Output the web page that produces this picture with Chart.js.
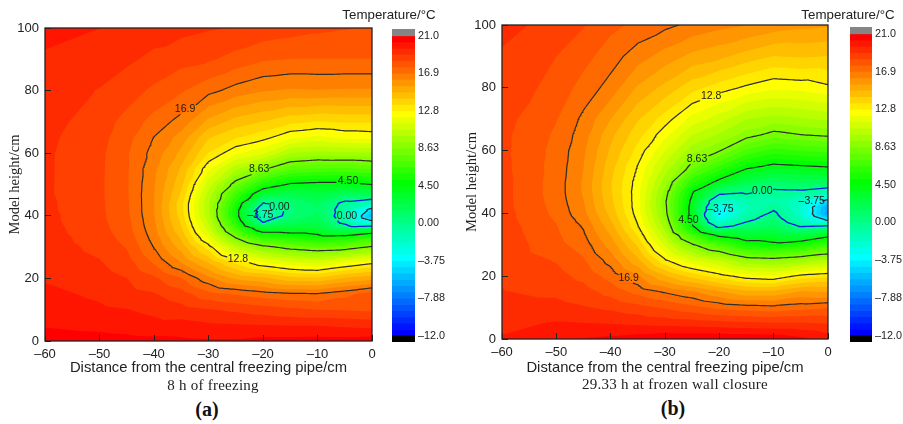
<!DOCTYPE html>
<html>
<head>
<meta charset="utf-8">
<style>
  html, body { margin: 0; padding: 0; background: #fff; width: 903px; height: 424px; overflow: hidden; }
  canvas { position: absolute; }
  .txt { position: absolute; white-space: nowrap; transform: translate(-50%, -50%); color: #222; }
  .legendTitle { font: 13.3px "Liberation Sans", sans-serif; }
  .caption { font: 15px "Liberation Serif", serif; letter-spacing: 0.25px; }
  .letter { font: bold 20px "Liberation Serif", serif; color: #111; }
</style>
</head>
<body>
<canvas id="plotA" width="380" height="385" style="left:0;top:0"></canvas>
<canvas id="barA" width="70" height="360" style="left:385px;top:0"></canvas>
<canvas id="plotB" width="380" height="385" style="left:457px;top:0"></canvas>
<canvas id="barB" width="60" height="360" style="left:843px;top:0"></canvas>
<div class="txt legendTitle" style="left:389px;top:13.5px">Temperature/°C</div>
<div class="txt legendTitle" style="left:848px;top:13.5px">Temperature/°C</div>
<div class="txt caption" style="left:213px;top:385px">8 h of freezing</div>
<div class="txt caption" style="left:675px;top:384px">29.33 h at frozen wall closure</div>
<div class="txt letter" style="left:207px;top:409px">(a)</div>
<div class="txt letter" style="left:673px;top:408px">(b)</div>

<script src="https://cdn.jsdelivr.net/npm/chart.js@4/dist/chart.umd.min.js"></script>
<script>
// grid nodes the temperatures were read at
const xNodes = [-60, -50, -45, -40, -35, -30, -25, -20, -15, -10, -5, 0];
const yNodes = [0, 5, 10, 15, 20, 25, 30, 33, 36, 38, 40, 42, 44, 47, 50, 55, 60, 65, 70, 80, 90, 100];

// panel (a), one array per x node, bottom to top
const a_m60 = [20.7, 20.25, 20, 19.8, 19.55, 19.4, 19.3, 19.25, 19.2, 19.15, 19.15, 19.1, 19.1, 19.05, 19.05, 19.05, 19.05, 19.1, 19.2, 19.35, 19.5, 19.9];
const a_m50 = [20.6, 20.1, 19.75, 19.5, 19.25, 19, 18.75, 18.62, 18.5, 18.45, 18.42, 18.4, 18.4, 18.38, 18.38, 18.4, 18.42, 18.5, 18.6, 18.9, 19.3, 19.63];
const a_m45 = [20.55, 20, 19.65, 19.2, 18.95, 18.55, 18.2, 18, 17.85, 17.8, 17.72, 17.7, 17.68, 17.65, 17.65, 17.65, 17.65, 17.8, 18, 18.6, 19.05, 19.35];
const a_m40 = [20.5, 19.85, 19.45, 19, 18.4, 17.5, 16.85, 16.6, 16.4, 16.3, 16.25, 16.2, 16.2, 16.2, 16.25, 16.35, 16.6, 16.85, 17.3, 18.1, 18.8, 19.2];
const a_m35 = [20.45, 19.9, 19.2, 18.55, 17.6, 16.2, 15.2, 14.7, 14.2, 14, 13.8, 13.7, 13.7, 14, 14.3, 14.7, 15.3, 15.9, 16.6, 17.65, 18.5, 19.15];
const a_m30 = [20.4, 19.75, 19, 17.8, 16.4, 14.8, 13.1, 11.9, 11, 10.6, 10.2, 10.1, 10.1, 10.4, 11, 12.2, 13.4, 14.2, 15.3, 17.1, 18.35, 19];
const a_m25 = [20.4, 19.7, 18.8, 17.5, 15.4, 13.3, 10.5, 8.6, 6.8, 5.9, 5.2, 5.2, 5.7, 6.7, 8.1, 10.2, 12.2, 13.5, 14.5, 16.6, 18, 18.9];
const a_m20 = [20.55, 19.65, 18.6, 17.2, 15, 12.2, 9, 6.3, 3.2, 0.3, -1.3, -1.2, 0.3, 3.2, 5.6, 8.8, 11.5, 13, 14.1, 16.25, 17.65, 18.7];
const a_m15 = [20.55, 19.6, 18.4, 17, 14.4, 11.6, 8.2, 5.8, 3.2, 1.9, 1.1, 0.9, 1.2, 2.4, 4.3, 7.5, 10, 12.2, 13.6, 16.1, 17.55, 18.55];
const a_m10 = [20.6, 19.6, 18.25, 16.95, 14.3, 11.3, 7.8, 5.2, 3.2, 2.4, 1.9, 1.7, 1.9, 2.9, 4.1, 7.2, 9.7, 11.9, 13.4, 16.15, 17.55, 18.4];
const a_m5 = [20.6, 19.5, 18.2, 17.35, 14.9, 12, 8, 5.3, 1.6, -0.2, -0.6, -0.4, -0.1, 1.9, 4.1, 7.1, 9.8, 12.2, 13.5, 16.1, 17.55, 18.3];
const a_0 = [20.7, 19.4, 18.1, 17.9, 15.3, 12.6, 8.8, 6.4, 2.4, -3.2, -5.8, -4.5, -1, 2.2, 4.5, 7.4, 9.9, 12.3, 13.5, 16.1, 17.55, 18.2];
const tempsA = [a_m60, a_m50, a_m45, a_m40, a_m35, a_m30, a_m25, a_m20, a_m15, a_m10, a_m5, a_0];

// panel (b)
const b_m60 = [19.7, 19.4, 19.2, 18.97, 18.85, 18.75, 18.7, 18.65, 18.6, 18.55, 18.55, 18.5, 18.5, 18.5, 18.5, 18.45, 18.42, 18.42, 18.5, 18.72, 18.85, 19.15];
const b_m50 = [20.2, 19.7, 19.15, 18.8, 18.5, 18.2, 17.8, 17.7, 17.6, 17.5, 17.4, 17.35, 17.3, 17.25, 17.25, 17.3, 17.35, 17.45, 17.6, 18, 18.25, 18.7];
const b_m45 = [20.35, 19.65, 19, 18.55, 18.05, 17.65, 17.25, 17, 16.8, 16.6, 16.4, 16.3, 16.2, 16.1, 16.1, 16.2, 16.3, 16.5, 16.7, 17.3, 17.8, 18.3];
const b_m40 = [20.5, 19.6, 18.8, 18, 17.3, 16.6, 15.9, 15.5, 15.1, 14.8, 14.6, 14.4, 14.3, 14.2, 14.2, 14.4, 14.7, 15, 15.5, 16.6, 17.2, 17.75];
const b_m35 = [20.7, 19.5, 18.5, 17.35, 16.3, 15, 14, 13.4, 12.8, 12.6, 12.4, 12.3, 12.3, 12.3, 12.4, 12.7, 13.2, 13.7, 14.2, 15.4, 16.5, 17.4];
const b_m30 = [20.9, 19.4, 18.15, 16.8, 14.9, 12.9, 11.3, 10.4, 9.7, 9.3, 9, 8.9, 8.8, 9.1, 9.6, 10.5, 11.4, 12.3, 13.1, 14.6, 15.9, 17.05];
const b_m25 = [20.9, 19.3, 17.8, 16.3, 13.9, 11.5, 8.8, 6.9, 4.7, 4.2, 3.9, 3.9, 4.1, 4.7, 6, 8.3, 9.6, 10.7, 11.8, 13.7, 15.3, 16.7];
const b_m20 = [20.9, 19.2, 17.4, 15.6, 13.1, 10.7, 7.1, 4.2, -0.4, -2.6, -3.9, -2.9, -1.8, 1.4, 4.1, 6.5, 8.7, 9.9, 11, 13.1, 15, 16.4];
const b_m15 = [20.9, 19.1, 17.2, 15, 12.4, 9.4, 5.4, 3.3, 1.1, 0, -0.9, -1.1, -0.8, 0.8, 2.4, 4.9, 7.1, 9, 10, 12.6, 14.5, 16.2];
const b_m10 = [20.8, 19, 17.1, 15, 12.2, 9.2, 4.9, 3.4, 1.9, 1.2, 0.7, 0, -0.5, 0, 1.7, 4.2, 6.3, 8.3, 9.7, 12.2, 14.1, 15.9];
const b_m5 = [20.5, 19, 17.3, 15.6, 13, 9.6, 5.5, 2.9, 0.2, -1, -1.8, -1.9, -1.6, 0.1, 2, 4.4, 6.6, 8.6, 9.9, 12.3, 14.2, 15.7];
const b_0 = [20, 18.9, 17.5, 15.5, 13.3, 10.2, 6.5, 4.1, 0.4, -4.1, -6.4, -6.2, -4.3, -0.6, 1.9, 4.6, 6.8, 8.8, 10.1, 12.6, 14.1, 15.6];
const tempsB = [b_m60, b_m50, b_m45, b_m40, b_m35, b_m30, b_m25, b_m20, b_m15, b_m10, b_m5, b_0];

// colour levels of the legend, and the ones with a tick label
const bandLevels = [21, 20.3125, 19.625, 18.9375, 18.25, 17.5625, 16.875, 16.1875, 15.5, 14.8125, 14.125, 13.4375,
  12.75, 12.0625, 11.375, 10.6875, 10, 9.3125, 8.625, 7.9375, 7.25, 6.5625, 5.875, 5.1875,
  4.5, 3.8125, 3.125, 2.4375, 1.75, 1.0625, 0.375, -0.3125, -1, -1.6875, -2.375, -3.0625,
  -3.75, -4.4375, -5.125, -5.8125, -6.5, -7.1875, -7.875, -8.5625, -9.25, -9.9375, -10.625, -11.3125, -12];
const legendTicks = [21, 16.875, 12.75, 8.625, 4.5, 0.375, -3.75, -7.875, -12];
const legendLabels = ['21.0', '16.9', '12.8', '8.63', '4.50', '0.00', '\u20133.75', '\u20137.88', '\u201312.0'];

// black lines, blue lines
const blackLevels = [16.875, 12.75, 8.625, 4.5, -3.75];
const blueLevels = [0.375];

// contour labels: x, y, text, level of the line it interrupts
const labelsA = [
  [-34.3, 74, '16.9', 16.875], [-20.7, 54.8, '8.63', 8.625], [-24.6, 26.2, '12.8', 12.75],
  [-4.4, 51, '4.50', 4.5], [-17, 42.9, '0.00', 0.375], [-20.5, 40.3, '\u20133.75', -3.75], [-4.6, 39.9, '0.00', 0.375]
];
const labelsB = [
  [-36.7, 19.4, '16.9', 16.875], [-21.5, 77.5, '12.8', 12.75], [-24.1, 57.2, '8.63', 8.625],
  [-25.7, 37.9, '4.50', 4.5], [-12.1, 47.2, '0.00', 0.375], [-19.8, 41.5, '\u20133.75', -3.75], [-3, 44, '\u20133.75', -3.75]
];

// legend colours: red - yellow - green - cyan - blue, by band number
const colourStops = [[0, 255, 0, 0], [12, 255, 255, 0], [23, 0, 255, 0], [35, 0, 255, 255], [47, 0, 0, 255]];
function bandColour(k) {
  for (let i = 1; i < colourStops.length; i++) {
    const p = colourStops[i - 1], q = colourStops[i];
    if (k <= q[0]) {
      const f = (k - p[0]) / (q[0] - p[0]);
      return 'rgb(' + [1, 2, 3].map(c => Math.round(p[c] + f * (q[c] - p[c]))).join(',') + ')';
    }
  }
  return 'rgb(0,0,255)';
}

function triangles(temps) {
  const tris = [];
  for (let i = 0; i < xNodes.length - 1; i++) {
    for (let j = 0; j < yNodes.length - 1; j++) {
      const n = (a, b) => ({ x: xNodes[a], y: yNodes[b], t: temps[a][b] });
      tris.push([n(i, j), n(i + 1, j), n(i + 1, j + 1)]);
      tris.push([n(i, j), n(i + 1, j + 1), n(i, j + 1)]);
    }
  }
  return tris;
}

function cross(a, b, level) {
  const f = (level - a.t) / (b.t - a.t);
  return { x: a.x + f * (b.x - a.x), y: a.y + f * (b.y - a.y), t: level };
}

// part of a triangle at or above the level
function clipTriangle(tri, level) {
  const out = [];
  for (let i = 0; i < 3; i++) {
    const a = tri[i], b = tri[(i + 1) % 3];
    if (a.t >= level) out.push(a);
    if ((a.t >= level) !== (b.t >= level)) out.push(cross(a, b, level));
  }
  return out;
}

// contour line for a level as broken line data, leaves a gap under its labels
function contourData(tris, level, labels) {
  const data = [];
  const gaps = labels.filter(l => l[3] === level);
  const inGap = (x, y) => gaps.some(g => Math.abs(x - g[0]) < 2 && Math.abs(y - g[1]) < 1.6);
  tris.forEach(tri => {
    const pts = [];
    for (let i = 0; i < 3; i++) {
      const a = tri[i], b = tri[(i + 1) % 3];
      if ((a.t >= level) !== (b.t >= level)) pts.push(cross(a, b, level));
    }
    if (pts.length !== 2) return;
    // cut into short pieces so only the part under a label goes missing
    const pieces = 8;
    for (let s = 0; s < pieces; s++) {
      const x0 = pts[0].x + (pts[1].x - pts[0].x) * s / pieces, y0 = pts[0].y + (pts[1].y - pts[0].y) * s / pieces;
      const x1 = pts[0].x + (pts[1].x - pts[0].x) * (s + 1) / pieces, y1 = pts[0].y + (pts[1].y - pts[0].y) * (s + 1) / pieces;
      if (inGap((x0 + x1) / 2, (y0 + y1) / 2)) continue;
      data.push({ x: x0, y: y0 }, { x: x1, y: y1 }, { x: null, y: null });
    }
  });
  return data;
}

const contourFill = {
  id: 'contourFill',
  beforeDatasetsDraw(chart, args, opts) {
    const { ctx, scales: { x, y } } = chart;
    ctx.save();
    for (let k = bandLevels.length - 2; k >= 0; k--) {
      ctx.beginPath();
      opts.tris.forEach(tri => {
        const poly = clipTriangle(tri, k === bandLevels.length - 2 ? -100 : bandLevels[k + 1]);
        poly.forEach((p, i) => {
          const px = x.getPixelForValue(p.x), py = y.getPixelForValue(p.y);
          if (i === 0) ctx.moveTo(px, py); else ctx.lineTo(px, py);
        });
        if (poly.length) ctx.closePath();
      });
      ctx.fillStyle = bandColour(k);
      ctx.fill();
    }
    ctx.restore();
  }
};

const frameAndLabels = {
  id: 'frameAndLabels',
  afterDatasetsDraw(chart, args, opts) {
    const { ctx, chartArea: c, scales: { x, y } } = chart;
    ctx.save();
    ctx.font = '10.5px "Liberation Sans", sans-serif';
    ctx.fillStyle = '#1a1a1a';
    ctx.textAlign = 'center';
    ctx.textBaseline = 'middle';
    opts.labels.forEach(l => ctx.fillText(l[2], x.getPixelForValue(l[0]), y.getPixelForValue(l[1])));
    ctx.strokeStyle = '#222';
    ctx.lineWidth = 1.3;
    ctx.strokeRect(c.left, c.top, c.right - c.left, c.bottom - c.top);
    ctx.restore();
  }
};

function minusLabel(v) {
  return v < 0 ? '\u2013' + Math.abs(v) : String(v);
}

function drawPlot(id, temps, labels, pad) {
  const tris = triangles(temps);
  const line = (level, colour, width) => ({
    type: 'line',
    data: contourData(tris, level, labels),
    borderColor: colour,
    borderWidth: width,
    borderCapStyle: 'round',
    pointRadius: 0,
    spanGaps: false,
    tension: 0
  });
  new Chart(document.getElementById(id), {
    type: 'line',
    data: {
      datasets: blackLevels.map(l => line(l, '#2e2e2e', 1.2)).concat(blueLevels.map(l => line(l, '#0a1ee6', 1.3)))
    },
    options: {
      responsive: false,
      animation: false,
      layout: { padding: { top: pad.top, right: pad.right, left: 0, bottom: 0 } },
      plugins: {
        legend: { display: false },
        tooltip: { enabled: false },
        contourFill: { tris: tris },
        frameAndLabels: { labels: labels }
      },
      scales: {
        x: {
          type: 'linear', min: -60, max: 0,
          afterBuildTicks: s => { s.ticks = [-60, -50, -40, -30, -20, -10, 0].map(v => ({ value: v })); },
          afterFit: s => { s.height = 385 - pad.bottom; s.paddingLeft = 0; s.paddingRight = 0; },
          grid: { drawOnChartArea: false, tickLength: -6, color: '#222', z: 1 },
          border: { display: false },
          ticks: { color: '#222', font: { family: 'Liberation Sans', size: 13 }, padding: 12, maxRotation: 0, callback: minusLabel },
          title: {
            display: true, text: 'Distance from the central freezing pipe/cm', color: '#222',
            font: { family: 'Liberation Sans', size: 14.8 }, padding: { top: 0, bottom: 8 }
          }
        },
        y: {
          type: 'linear', min: 0, max: 100,
          afterBuildTicks: s => { s.ticks = [0, 20, 40, 60, 80, 100].map(v => ({ value: v })); },
          afterFit: s => { s.width = 45; s.paddingTop = 0; s.paddingBottom = 0; },
          grid: { drawOnChartArea: false, tickLength: -6, color: '#222', z: 1 },
          border: { display: false },
          ticks: { color: '#222', font: { family: 'Liberation Sans', size: 13 }, padding: 12 },
          title: {
            display: true, text: 'Model height/cm', color: '#222',
            font: { family: 'Liberation Serif', size: 14.6 }, padding: { top: 6, bottom: 0 }
          }
        }
      }
    },
    plugins: [contourFill, frameAndLabels]
  });
}

function drawLegend(id, pad, yWidth) {
  const sets = [
    { data: [[21, 21.75]], backgroundColor: '#858585' },
    { data: [[-12.7, -12]], backgroundColor: '#000' }
  ];
  for (let k = 0; k < bandLevels.length - 1; k++) {
    sets.push({ data: [[bandLevels[k + 1], bandLevels[k]]], backgroundColor: bandColour(k) });
  }
  sets.forEach(s => { s.barPercentage = 1; s.categoryPercentage = 1; s.grouped = false; s.borderWidth = 0; });
  new Chart(document.getElementById(id), {
    type: 'bar',
    data: { labels: ['T'], datasets: sets },
    options: {
      responsive: false,
      animation: false,
      layout: { padding: { left: 7, top: pad.top, right: 0, bottom: pad.bottom } },
      plugins: { legend: { display: false }, tooltip: { enabled: false } },
      scales: {
        x: { display: false },
        y: {
          position: 'right', min: -12.7, max: 21.75,
          afterBuildTicks: s => { s.ticks = legendTicks.map(v => ({ value: v })); },
          afterFit: s => { s.width = yWidth; s.paddingTop = 0; s.paddingBottom = 0; },
          grid: { display: false, drawTicks: false },
          border: { display: false },
          ticks: {
            color: '#222', font: { family: 'Liberation Sans', size: 10.8 }, padding: 3,
            callback: v => legendLabels[legendTicks.indexOf(v)]
          }
        }
      }
    }
  });
}

drawPlot('plotA', tempsA, labelsA, { top: 28, right: 8, bottom: 341 });
drawPlot('plotB', tempsB, labelsB, { top: 25, right: 9, bottom: 339 });
drawLegend('barA', { top: 29, bottom: 18 }, 40);
drawLegend('barB', { top: 27, bottom: 18 }, 31);
</script>
</body>
</html>
